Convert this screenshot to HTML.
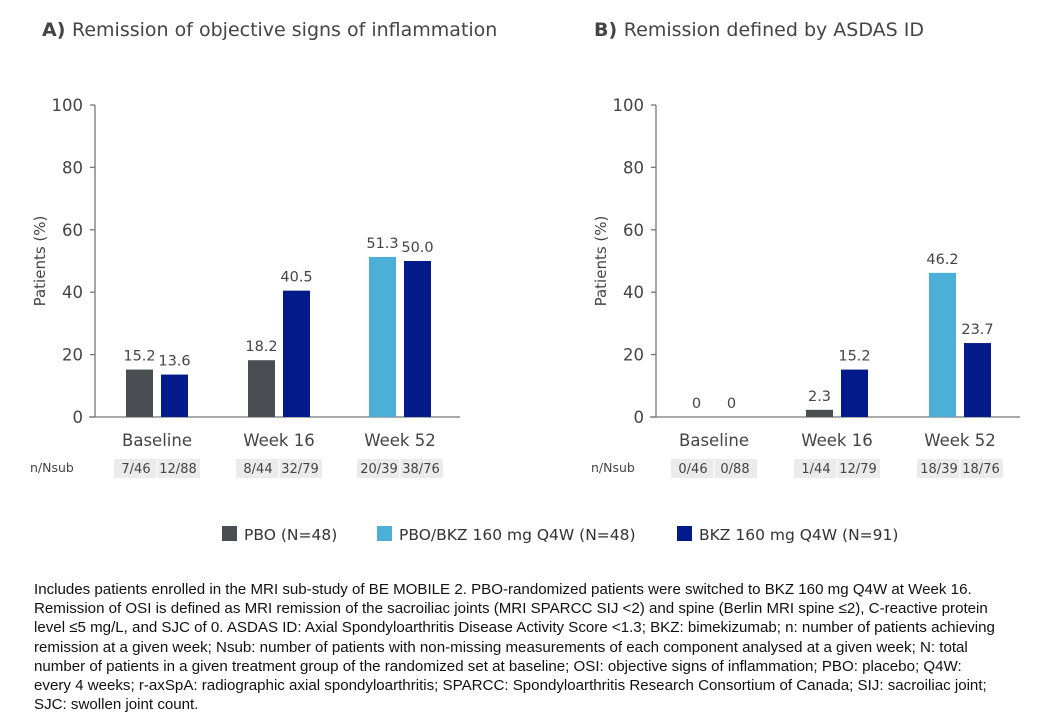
<!DOCTYPE html>
<html><head><meta charset="utf-8"><style>
body{margin:0;width:1054px;height:720px;background:#fff;overflow:hidden;font-family:"DejaVu Sans","Liberation Sans",sans-serif;}
svg text{font-family:"DejaVu Sans","Liberation Sans",sans-serif;}
#foot{position:absolute;left:34px;top:580px;width:990px;font-family:"Liberation Sans",sans-serif;font-size:15.1px;line-height:19.2px;color:#111;}
</style></head><body>
<svg id="chart" width="1054" height="580" style="position:absolute;left:0;top:0"></svg>
<div id="foot">Includes patients enrolled in the MRI sub-study of BE MOBILE 2. PBO-randomized patients were switched to BKZ 160 mg Q4W at Week 16.<br>Remission of OSI is defined as MRI remission of the sacroiliac joints (MRI SPARCC SIJ &lt;2) and spine (Berlin MRI spine ≤2), C-reactive protein<br>level ≤5 mg/L, and SJC of 0. ASDAS ID: Axial Spondyloarthritis Disease Activity Score &lt;1.3; BKZ: bimekizumab; n: number of patients achieving<br>remission at a given week; Nsub: number of patients with non-missing measurements of each component analysed at a given week; N: total<br>number of patients in a given treatment group of the randomized set at baseline; OSI: objective signs of inflammation; PBO: placebo; Q4W:<br>every 4 weeks; r-axSpA: radiographic axial spondyloarthritis; SPARCC: Spondyloarthritis Research Consortium of Canada; SIJ: sacroiliac joint;<br>SJC: swollen joint count.</div>
<script>
const categories=["Baseline","Week 16","Week 52"];
const ticks=[0,20,40,60,80,100];
const aFirst=[15.2,18.2,51.3];
const aSecond=[13.6,40.5,50.0];
const aN1=["7/46","8/44","20/39"];
const aN2=["12/88","32/79","38/76"];
const bFirst=[0,2.3,46.2];
const bSecond=[0,15.2,23.7];
const bN1=["0/46","1/44","18/39"];
const bN2=["0/88","12/79","18/76"];
const firstColors=["#4a4d52","#4a4d52","#4bafd8"];
const NAVY="#031a8a";
const svg=document.getElementById('chart');
const NS="http://www.w3.org/2000/svg";
function mk(tag,attrs,parent){const e=document.createElementNS(NS,tag);for(const k in attrs)e.setAttribute(k,attrs[k]);(parent||svg).appendChild(e);return e;}
function y(v){return 417-v*3.12;}
function panel(id,ax,xEnd,centers,first,second,n1,n2,title,letter,tx){
  const g=mk('g',{});
  
  
  const t=mk('text',{x:tx,y:36,'font-size':19,fill:'#444'},g);
  
  
  const b=mk('tspan',{'font-weight':'bold'},t);b.textContent=letter+' ';
  const r=mk('tspan',{},t);r.textContent=title;
  mk('line',{x1:ax,y1:y(100),x2:ax,y2:y(0),stroke:'#777','stroke-width':1.3},g);
  mk('line',{x1:ax-6,y1:y(0),x2:xEnd,y2:y(0),stroke:'#777','stroke-width':1.3},g);
  ticks.forEach(v=>{
    mk('line',{x1:ax-5,y1:y(v),x2:ax,y2:y(v),stroke:'#777','stroke-width':1.3},g);
    const tl=mk('text',{x:ax-12,y:y(v)+6,'text-anchor':'end','font-size':16.5,fill:'#444'},g);
    
    
    tl.textContent=v;
  });
  const yt=mk('text',{transform:`translate(${ax-50},${y(50)}) rotate(-90)`,'text-anchor':'middle','font-size':15,fill:'#444'},g);
  
  
  yt.textContent='Patients (%)';
  const nl=mk('text',{x:ax-65,y:472,'font-size':12.5,fill:'#444'},g);
  
  
  nl.textContent='n/Nsub';
  centers.forEach((c,i)=>{
    [[first[i],firstColors[i],c-31],[second[i],NAVY,c+4]].forEach(([v,col,x0],j)=>{
      const bar=mk('rect',{x:x0,y:y(v),width:27,height:y(0)-y(v),fill:col},g);
      
      
      const vl=mk('text',{x:x0+13.5,y:y(v)-9,'text-anchor':'middle','font-size':14.5,fill:'#444'},g);
      
      
      vl.textContent=v===0?'0':v.toFixed(1);
    });
    const cl=mk('text',{x:c,y:446,'text-anchor':'middle','font-size':16.5,fill:'#444'},g);
    
    
    cl.textContent=categories[i];
    const box=mk('rect',{x:c-43,y:459,width:86,height:19,fill:'#ebebeb'},g);
    
    
    mk('line',{x1:c,y1:459,x2:c,y2:478,stroke:'#fff','stroke-width':1},g);
    const s1=mk('text',{x:c-21,y:473,'text-anchor':'middle','font-size':13,fill:'#444'},g);
    s1.textContent=n1[i];
    const s2=mk('text',{x:c+21,y:473,'text-anchor':'middle','font-size':13,fill:'#444'},g);
    s2.textContent=n2[i];
  });
}
panel('panel-a',95,460,[157,279,400],aFirst,aSecond,aN1,aN2,'Remission of objective signs of inflammation','A)',42);
panel('panel-b',656,1020,[714,837,960],bFirst,bSecond,bN1,bN2,'Remission defined by ASDAS ID','B)',594);
const legendLabels=["PBO (N=48)","PBO/BKZ 160 mg Q4W (N=48)","BKZ 160 mg Q4W (N=91)"];
const legendColors=["#4a4d52","#4bafd8",NAVY];
const legendX=[222,377,677];
legendLabels.forEach((lab,i)=>{
  const g=mk('g',{});
  
  
  mk('rect',{x:legendX[i],y:526,width:15,height:15,fill:legendColors[i]},g);
  const t=mk('text',{x:legendX[i]+22,y:540,'font-size':15.5,fill:'#333'},g);
  t.textContent=lab;
});
</script>
</body></html>
